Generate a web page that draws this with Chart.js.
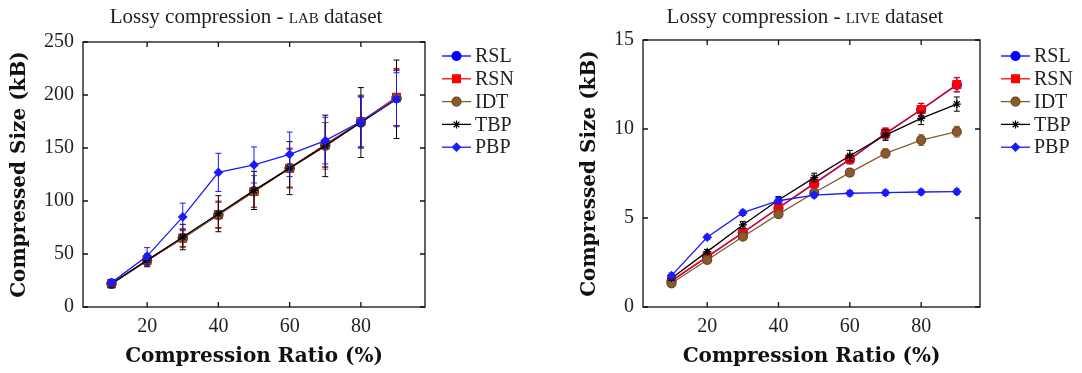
<!DOCTYPE html>
<html lang="en">
<head>
  <meta charset="UTF-8">
  <title>Lossy compression</title>
  <script src="https://cdn.jsdelivr.net/npm/chart.js"></script>
  <style>
    body { margin: 0; background: #fff; }
    .wrap { position: relative; width: 1082px; height: 373px; }
    canvas { position: absolute; top: 0; }
    .titulo {
      position: absolute; top: 4px; font-family: "Liberation Serif", serif;
      font-size: 21px; color: #222; text-align: center; white-space: nowrap;
    }
    .sc { font-variant: small-caps; }
  </style>
</head>
<body>
  <div class="wrap">
    <canvas id="labChart" width="541" height="373" style="left:0"></canvas>
    <canvas id="liveChart" width="541" height="373" style="left:541px"></canvas>
    <div class="titulo" style="left:96px; width:300px">Lossy compression - <span class="sc">lab</span> dataset</div>
    <div class="titulo" style="left:655px; width:300px">Lossy compression - <span class="sc">live</span> dataset</div>
  </div>

  <script>
    // compression ratio (%)
    const ratios = [10, 20, 30, 40, 50, 60, 70, 80, 90];
    const xTickVals = [20, 40, 60, 80];
    const seriesNames = ['RSL', 'RSN', 'IDT', 'TBP', 'PBP'];

    // LAB dataset (kB)
    const labRSL = [22, 44, 65, 87, 109, 131, 153, 174, 197];
    const labRSN = [22, 44, 65, 87, 109, 131, 153, 175, 198];
    const labIDT = [22, 44, 65, 87, 109, 131, 152, 175, 197];
    const labTBP = [22, 44, 66, 88, 110, 131, 152, 174, 196];
    const labPBP = [23, 48, 85, 127, 134, 144, 157, 175, 196];
    const labErrRSL = [3, 5, 8, 12, 15, 18, 21, 24, 26];
    const labErrRSN = [3, 5, 8, 12, 15, 18, 21, 24, 27];
    const labErrIDT = [3, 5, 9, 13, 15, 19, 22, 25, 27];
    const labErrTBP = [4, 6, 12, 17, 18, 25, 29, 33, 37];
    const labErrPBP = [3, 8, 13, 18, 17, 21, 22, 24, 25];
    const labYTicks = [0, 50, 100, 150, 200, 250];

    // LIVE dataset (kB)
    const liveRSL = [1.46, 2.81, 4.17, 5.56, 6.93, 8.29, 9.74, 11.08, 12.48];
    const liveRSN = [1.48, 2.83, 4.19, 5.58, 6.95, 8.31, 9.76, 11.1, 12.5];
    const liveIDT = [1.33, 2.64, 3.95, 5.22, 6.42, 7.55, 8.63, 9.38, 9.85];
    const liveTBP = [1.61, 3.11, 4.61, 6.01, 7.27, 8.5, 9.66, 10.6, 11.4];
    const livePBP = [1.76, 3.92, 5.3, 5.97, 6.29, 6.39, 6.42, 6.46, 6.48];
    const liveErrRSL = [0.1, 0.12, 0.15, 0.2, 0.22, 0.25, 0.3, 0.35, 0.4];
    const liveErrRSN = [0.1, 0.12, 0.15, 0.2, 0.22, 0.25, 0.3, 0.35, 0.4];
    const liveErrIDT = [0.1, 0.12, 0.15, 0.15, 0.18, 0.22, 0.25, 0.3, 0.3];
    const liveErrTBP = [0.1, 0.12, 0.2, 0.2, 0.25, 0.3, 0.3, 0.35, 0.4];
    const liveErrPBP = [0.15, 0.12, 0.15, 0.15, 0.15, 0.15, 0.15, 0.15, 0.15];
    const liveYTicks = [0, 5, 10, 15];

    // estilos de cada serie
    const estilos = [
      { cor: '#0000ff', ponto: 'circle', raio: 4.5 },
      { cor: '#ff0000', ponto: 'rect', raio: 5.5 },
      { cor: '#8a5a2c', ponto: 'circle', raio: 4.5 },
      { cor: '#000000', ponto: 'star', raio: 4 },
      { cor: '#1a1aff', ponto: 'rectRot', raio: 4 }
    ];

    const serifFont = '"Liberation Serif", serif';
    const boldFont = '"DejaVu Serif", serif';

    // barras de erro desenhadas antes de cada serie
    const errorBars = {
      id: 'errorBars',
      beforeDatasetDraw(chart, args) {
        const ds = chart.data.datasets[args.index];
        if (!ds.erros) return;
        const { ctx, scales: { x, y } } = chart;
        ctx.save();
        ctx.strokeStyle = ds.borderColor;
        ctx.lineWidth = 1;
        ds.data.forEach((p, i) => {
          const e = ds.erros[i];
          const px = x.getPixelForValue(p.x);
          const y1 = y.getPixelForValue(p.y - e);
          const y2 = y.getPixelForValue(p.y + e);
          ctx.beginPath();
          ctx.moveTo(px, y1); ctx.lineTo(px, y2);
          ctx.moveTo(px - 3, y1); ctx.lineTo(px + 3, y1);
          ctx.moveTo(px - 3, y2); ctx.lineTo(px + 3, y2);
          ctx.stroke();
        });
        ctx.restore();
      }
    };

    // moldura com marcas para dentro
    const moldura = {
      id: 'moldura',
      afterDatasetsDraw(chart) {
        const { ctx, chartArea: a, scales: { x, y } } = chart;
        ctx.save();
        ctx.strokeStyle = '#111';
        ctx.lineWidth = 1.3;
        ctx.strokeRect(a.left, a.top, a.right - a.left, a.bottom - a.top);
        ctx.beginPath();
        x.ticks.forEach(t => {
          const px = x.getPixelForValue(t.value);
          ctx.moveTo(px, a.bottom); ctx.lineTo(px, a.bottom - 5);
          ctx.moveTo(px, a.top); ctx.lineTo(px, a.top + 5);
        });
        y.ticks.forEach(t => {
          const py = y.getPixelForValue(t.value);
          ctx.moveTo(a.left, py); ctx.lineTo(a.left + 5, py);
          ctx.moveTo(a.right, py); ctx.lineTo(a.right - 5, py);
        });
        ctx.stroke();
        ctx.restore();
      }
    };

    // legenda com linha e marcador
    const legenda = {
      id: 'legenda',
      afterDraw(chart, args, opts) {
        const { ctx, chartArea: a } = chart;
        const x0 = a.right + opts.dx;
        ctx.save();
        chart.data.datasets.forEach((ds, i) => {
          const yy = opts.y0 + i * 22.8;
          ctx.strokeStyle = ds.borderColor;
          ctx.lineWidth = 1.3;
          ctx.beginPath();
          ctx.moveTo(x0, yy); ctx.lineTo(x0 + 29, yy);
          ctx.stroke();
          ctx.fillStyle = ds.backgroundColor;
          ctx.strokeStyle = ds.pointBorderColor;
          ctx.lineWidth = 1.2;
          Chart.helpers.drawPoint(ctx, {
            pointStyle: ds.pointStyle, radius: ds.pointRadius, borderWidth: 1.2
          }, x0 + 14.5, yy);
          ctx.fillStyle = '#222';
          ctx.font = '20px ' + serifFont;
          ctx.textBaseline = 'middle';
          ctx.fillText(ds.label, x0 + 33, yy + 1);
        });
        ctx.restore();
      }
    };

    function montaDatasets(series, erros) {
      return series.map((vals, i) => {
        const e = estilos[i];
        return {
          label: seriesNames[i],
          data: ratios.map((r, j) => ({ x: r, y: vals[j] })),
          erros: erros[i],
          borderColor: e.cor,
          backgroundColor: e.cor,
          pointBorderColor: i === 2 ? '#6e4520' : e.cor,
          pointStyle: e.ponto,
          pointRadius: e.raio,
          pointBorderWidth: 1.2,
          borderWidth: 1.3,
          showLine: true,
          order: 5 - i
        };
      });
    }

    function criaGrafico(id, datasets, cfg) {
      const ctx = document.getElementById(id).getContext('2d');
      return new Chart(ctx, {
        type: 'scatter',
        data: { datasets: datasets },
        plugins: [errorBars, moldura, legenda],
        options: {
          responsive: false,
          animation: false,
          layout: { padding: { top: cfg.top, right: cfg.right, left: 0, bottom: 0 } },
          plugins: {
            legend: { display: false },
            tooltip: { enabled: false },
            legenda: { dx: cfg.legDx, y0: 56 }
          },
          scales: {
            x: {
              type: 'linear', min: 2, max: cfg.xMax,
              afterBuildTicks: s => { s.ticks = xTickVals.map(v => ({ value: v })); },
              afterFit: s => { s.height = 66; },
              grid: { display: false },
              border: { display: false },
              ticks: { color: '#222', font: { family: serifFont, size: 20 }, padding: 0 },
              title: {
                display: true, text: 'Compression Ratio (%)', color: '#111',
                font: { family: boldFont, size: 20, weight: 'bold' },
                padding: { top: 0, bottom: 4 }
              }
            },
            y: {
              min: 0, max: cfg.yMax,
              afterBuildTicks: s => { s.ticks = cfg.yTicks.map(v => ({ value: v })); },
              afterFit: s => { s.width = cfg.left; },
              grid: { display: false },
              border: { display: false },
              ticks: { color: '#222', font: { family: serifFont, size: 20 }, padding: 1 },
              title: {
                display: true, text: 'Compressed Size (kB)', color: '#111',
                font: { family: boldFont, size: 20, weight: 'bold' },
                padding: { top: cfg.titlePad, bottom: 0 }
              }
            }
          }
        }
      });
    }

    criaGrafico('labChart',
      montaDatasets([labRSL, labRSN, labIDT, labTBP, labPBP],
                    [labErrRSL, labErrRSN, labErrIDT, labErrTBP, labErrPBP]),
      { top: 42, right: 116, left: 83, xMax: 98, yMax: 250, yTicks: labYTicks, legDx: 17, titlePad: 8 });

    criaGrafico('liveChart',
      montaDatasets([liveRSL, liveRSN, liveIDT, liveTBP, livePBP],
                    [liveErrRSL, liveErrRSN, liveErrIDT, liveErrTBP, liveErrPBP]),
      { top: 40, right: 102, left: 102, xMax: 96.5, yMax: 15, yTicks: liveYTicks, legDx: 21, titlePad: 37 });
  </script>
</body>
</html>
